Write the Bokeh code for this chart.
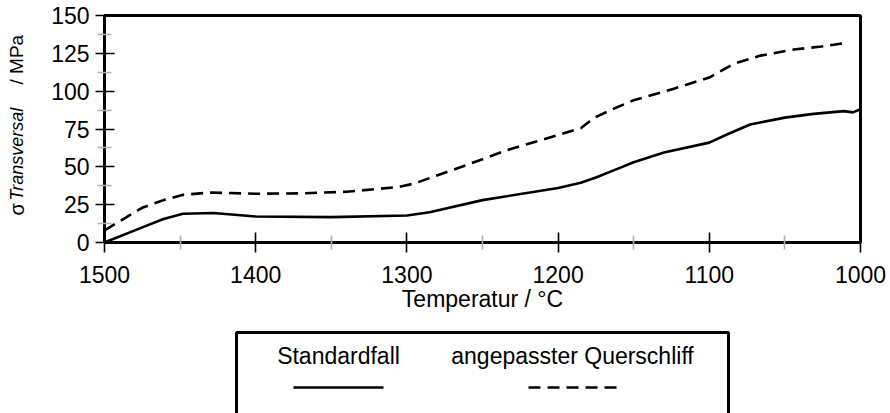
import math
from bokeh.plotting import figure
from bokeh.layouts import column, row
from bokeh.models import Range1d, FixedTicker
from bokeh.core.properties import value
from bokeh.embed import file_html
from bokeh.resources import INLINE

# ---- data ----
temp_standard = [1500, 1475, 1461, 1448, 1428, 1400, 1350, 1300, 1285, 1250,
                 1200, 1185, 1175, 1160, 1150, 1130, 1100, 1088, 1073, 1050,
                 1031, 1011, 1005, 1000]
sigma_standard = [0, 10, 15.5, 19, 19.5, 17.2, 16.8, 17.8, 20, 28,
                  36, 39.5, 43, 49, 53, 59.5, 66, 71.5, 78, 82.5,
                  85, 86.8, 86, 88]

temp_quer = [1500, 1475, 1461, 1448, 1430, 1400, 1370, 1340, 1306, 1295,
             1271, 1250, 1234, 1200, 1185, 1176, 1163, 1150, 1124, 1100,
             1084, 1066, 1044, 1026, 1009]
sigma_quer = [8, 23, 28, 31.5, 33, 32.2, 32.5, 33.5, 36.6, 39,
              47.5, 55, 61, 71, 75.5, 82.5, 88.5, 94, 101.5, 109,
              118, 123.5, 127.5, 129.5, 132]

x_ticks = [1500, 1400, 1300, 1200, 1100, 1000]
x_minor = [1450, 1350, 1250, 1150, 1050]
y_ticks = [0, 25, 50, 75, 100, 125, 150]
y_minor = [12.5, 37.5, 62.5, 87.5, 112.5, 137.5]

series_names = ["Standardfall", "angepasster Querschliff"]
x_title = "Temperatur / °C"
y_title_parts = ["σ", "Transversal", "/ MPa"]

FONT = "Liberation Sans"

W_TOTAL = 890
W_YLAB = 40
W_MAIN = W_TOTAL - W_YLAB
H_MAIN = 324
H_LEG = 89
FRAME_TOP, FRAME_BOTTOM = 15, 242   # pixel rows of the plot frame

# ---- y-axis title panel (its frame is aligned with the main frame; y = pixel row) ----
ylab = figure(width=W_YLAB, height=H_MAIN, output_backend="svg", toolbar_location=None,
              x_range=Range1d(0, W_YLAB), y_range=Range1d(FRAME_BOTTOM, FRAME_TOP),
              min_border=0, x_axis_type=None, y_axis_type=None)
ylab.grid.visible = False
ylab.outline_line_color = None
ylab.background_fill_color = "white"
ylab.border_fill_color = "white"
ylab.text(x=[16, 16, 16], y=[215, 200, 84],
          text=y_title_parts, angle=math.pi / 2,
          text_font=value(FONT), text_font_size=["20px", "18px", "19px"],
          text_font_style=["normal", "italic", "normal"], text_color="black",
          text_align="left", text_baseline="alphabetic")

# ---- main chart ----
p = figure(width=W_MAIN, height=H_MAIN, output_backend="svg", toolbar_location=None,
           x_range=Range1d(1500, 1000), y_range=Range1d(0, 150),
           min_border_left=104 - W_YLAB, min_border_right=30, min_border_top=FRAME_TOP,
           min_border_bottom=H_MAIN - FRAME_BOTTOM)
p.grid.visible = False
p.outline_line_color = "black"
p.outline_line_width = 3
p.background_fill_color = "white"
p.border_fill_color = "white"

p.line(temp_standard, sigma_standard, line_color="black", line_width=2.6)
p.line(temp_quer, sigma_quer, line_color="black", line_width=2.6, line_dash="12 7")

for ax in (p.xaxis[0], p.yaxis[0]):
    ax.axis_line_width = 3
    ax.axis_line_color = "black"
    ax.major_tick_line_color = "black"
    ax.major_tick_line_width = 1.6
    ax.minor_tick_line_color = "#b0b0b0"
    ax.minor_tick_line_width = 1.6
    ax.major_label_text_font = FONT
    ax.major_label_text_font_size = "23px"
    ax.major_label_text_color = "black"
    ax.minor_tick_in = 7
    ax.minor_tick_out = 7

xa = p.xaxis[0]
xa.ticker = FixedTicker(ticks=x_ticks, minor_ticks=x_minor)
xa.major_tick_in = 10
xa.major_tick_out = 10
xa.major_label_standoff = 13
xa.axis_label = x_title
xa.axis_label_text_font = FONT
xa.axis_label_text_font_style = "normal"
xa.axis_label_text_font_size = "23px"
xa.axis_label_text_color = "black"
xa.axis_label_standoff = 0

ya = p.yaxis[0]
ya.ticker = FixedTicker(ticks=y_ticks, minor_ticks=y_minor)
ya.major_tick_in = 10
ya.major_tick_out = 9
ya.major_label_standoff = 6

# ---- legend panel (sample below each name) ----
leg = figure(width=W_TOTAL, height=H_LEG, output_backend="svg", toolbar_location=None,
             x_range=Range1d(0, W_TOTAL), y_range=Range1d(H_LEG, 0),
             min_border=0, x_axis_type=None, y_axis_type=None)
leg.grid.visible = False
leg.outline_line_color = None
leg.background_fill_color = "white"
leg.border_fill_color = "white"

box_l, box_r, box_t = 236, 728, 8
leg.line([box_l, box_l, box_r, box_r], [H_LEG + 5, box_t, box_t, H_LEG + 5],
         line_color="black", line_width=3)

centers = [338, 572]
leg.text(x=centers, y=[31, 31], text=series_names, text_font=value(FONT),
         text_font_size="23px", text_color="black", text_align="center",
         text_baseline="alphabetic")
leg.line([centers[0] - 45, centers[0] + 45], [63, 63], line_color="black", line_width=2.6)
leg.line([centers[1] - 44, centers[1] + 44], [63, 63], line_color="black", line_width=2.6,
         line_dash="12 7")

layout = column(row(ylab, p, spacing=0), leg, spacing=0)
open("out.html", "w").write(file_html(layout, INLINE))
